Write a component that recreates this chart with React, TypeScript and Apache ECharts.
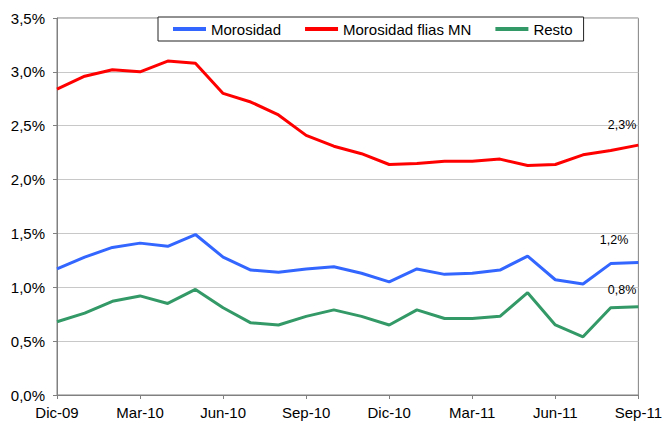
import React, { useEffect, useRef } from "react";
import * as echarts from "echarts";

const categories = [
  "Dic-09", "Ene-10", "Feb-10", "Mar-10", "Abr-10", "May-10", "Jun-10", "Jul-10",
  "Ago-10", "Sep-10", "Oct-10", "Nov-10", "Dic-10", "Ene-11", "Feb-11", "Mar-11",
  "Abr-11", "May-11", "Jun-11", "Jul-11", "Ago-11", "Sep-11",
];

const morosidad = [
  1.17, 1.28, 1.37, 1.41, 1.38, 1.49, 1.28, 1.16, 1.14, 1.17, 1.19, 1.13,
  1.05, 1.17, 1.12, 1.13, 1.16, 1.29, 1.07, 1.03, 1.22, 1.23,
];

const morosidadFlias = [
  2.84, 2.96, 3.02, 3.0, 3.1, 3.08, 2.8, 2.72, 2.6, 2.41, 2.31, 2.24,
  2.14, 2.15, 2.17, 2.17, 2.19, 2.13, 2.14, 2.23, 2.27, 2.32,
];

const resto = [
  0.68, 0.76, 0.87, 0.92, 0.85, 0.98, 0.81, 0.67, 0.65, 0.73, 0.79, 0.73,
  0.65, 0.79, 0.71, 0.71, 0.73, 0.95, 0.65, 0.54, 0.81, 0.82,
];

const seriesNames = ["Morosidad", "Morosidad flias MN", "Resto"];
const seriesColors = ["#3366FF", "#FF0000", "#339966"];
const endLabels = ["1,2%", "2,3%", "0,8%"];
const labelOffsets: [number, number][] = [[-10, -23], [-2, -20], [-2, -17]];

const FONT = "'Liberation Sans', Arial, sans-serif";

export default function App() {
  const ref = useRef<HTMLDivElement>(null);
  useEffect(() => {
    document.body.style.margin = "0";
    if (!ref.current) return;
    const chart = echarts.init(ref.current, null, { renderer: "svg" });
    const datasets = [morosidad, morosidadFlias, resto];
    chart.setOption({
      animation: false,
      backgroundColor: "#fff",
      textStyle: { fontFamily: FONT },
      grid: {
        left: 57,
        right: 24,
        top: 18,
        bottom: 28,
        show: true,
        borderColor: "#808080",
        borderWidth: 1,
      },
      legend: {
        left: 158,
        top: 17,
        padding: [4, 11, 4, 15],
        itemGap: 24,
        itemWidth: 33,
        itemHeight: 4,
        icon: "rect",
        backgroundColor: "#fff",
        borderColor: "#222",
        borderWidth: 1,
        textStyle: { fontFamily: FONT, fontSize: 15, lineHeight: 16, color: "#000" },
        data: seriesNames,
      },
      xAxis: {
        type: "category",
        data: categories,
        boundaryGap: false,
        axisLine: { lineStyle: { color: "#808080" } },
        axisTick: { interval: 2, length: 4, lineStyle: { color: "#808080" } },
        axisLabel: {
          interval: 2,
          color: "#000",
          fontSize: 15,
          fontFamily: FONT,
          margin: 10,
        },
        splitLine: { show: false },
      },
      yAxis: {
        type: "value",
        min: 0,
        max: 3.5,
        interval: 0.5,
        axisLine: { show: true, lineStyle: { color: "#808080" } },
        axisTick: { show: true, length: 4, lineStyle: { color: "#808080" } },
        axisLabel: {
          color: "#000",
          fontSize: 15,
          fontFamily: FONT,
          margin: 12,
          formatter: (v: number) => v.toFixed(1).replace(".", ",") + "%",
        },
        splitLine: { lineStyle: { color: "#c8c8c8", width: 1 } },
      },
      series: datasets.map((d, i) => ({
        name: seriesNames[i],
        type: "line",
        color: seriesColors[i],
        symbol: "none",
        showSymbol: false,
        lineStyle: { width: 3, color: seriesColors[i] },
        data: d,
        markPoint: {
          symbol: "circle",
          symbolSize: 0,
          silent: true,
          data: [
            {
              coord: [d.length - 1, d[d.length - 1]],
              value: d[d.length - 1],
              label: {
                show: true,
                position: "inside",
                align: "right",
                verticalAlign: "middle",
                offset: labelOffsets[i],
                formatter: endLabels[i],
                color: "#000",
                fontSize: 12.5,
                fontFamily: FONT,
              },
            },
          ],
        },
      })),
    });
    return () => chart.dispose();
  }, []);
  return <div ref={ref} style={{ width: 665, height: 423 }} />;
}
